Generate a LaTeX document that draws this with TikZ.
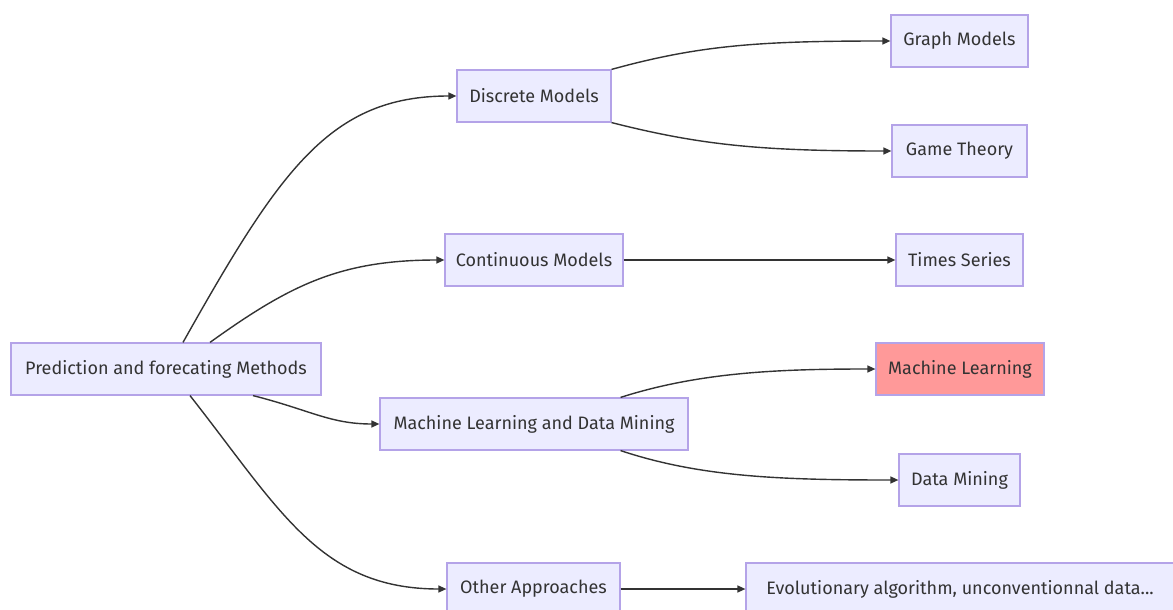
\documentclass[tikz,border=0pt]{standalone}
\usepackage{fontspec}
\setmainfont{Fira Sans}
\usepackage{tikz}
\usetikzlibrary{positioning,arrows.meta}
\usepackage{xcolor}
\definecolor{boxfill}{HTML}{ECECFF}
\definecolor{boxline}{HTML}{B4A3E8}
\definecolor{hotfill}{HTML}{FF9999}
\definecolor{ink}{HTML}{333333}

\begin{document}
\begin{tikzpicture}[x=1pt, y=-1pt, >={Triangle[length=8pt,width=7pt]},
    box/.style={draw=boxline, fill=boxfill, line width=1.2pt, minimum height=52pt, inner xsep=10pt, text=ink, font=\fontsize{18}{21}\selectfont},
    hot/.style={box, fill=hotfill},
    link/.style={->, draw=ink, line width=1.4pt}]
    \useasboundingbox (0,0) rectangle (1173,610);

    % root
    \node[box, minimum width=310pt] (root) at (166, 369) {Prediction and forecating Methods};

    % middle column
    \node[box, minimum width=154pt] (disc) at (534, 96) {Discrete Models};
    \node[box, minimum width=178pt] (cont) at (534, 260) {Continuous Models};
    \node[box, minimum width=308pt] (mldm) at (534, 424) {Machine Learning and Data Mining};
    \node[box, minimum width=173pt] (other) at (533.5, 589) {Other Approaches};

    % leaves
    \node[box, minimum width=137pt] (graph) at (959.5, 41) {Graph Models};
    \node[box, minimum width=135pt] (game) at (959.5, 151) {Game Theory};
    \node[box, minimum width=127pt] (times) at (959.5, 260) {Times Series};
    \node[hot, minimum width=168pt] (ml) at (960, 369) {Machine Learning};
    \node[box, minimum width=428pt] (evo) at (960, 589) {Evolutionary algorithm, unconventionnal data...};
    \node[box, minimum width=121pt] (dm) at (959.5, 480) {Data Mining};

    % root to middle column
    \draw[link] ([xshift=17pt]root.north) .. controls (280,170) and (330,96) .. (disc.west);
    \draw[link] ([xshift=44pt]root.north) .. controls (290,285) and (340,260) .. (cont.west);
    \draw[link] ([xshift=87pt]root.south) .. controls (310,410) and (330,424) .. (mldm.west);
    \draw[link] ([xshift=24pt]root.south) .. controls (280,510) and (320,589) .. (other.west);

    % middle column to leaves
    \draw[link] (disc.north east) .. controls (700,45) and (760,41) .. (graph.west);
    \draw[link] (disc.south east) .. controls (700,145) and (760,151) .. (game.west);
    \draw[link] (cont.east) -- (times.west);
    \draw[link] ([xshift=-68pt]mldm.north east) .. controls (700,372) and (780,369) .. (ml.west);
    \draw[link] ([xshift=-68pt]mldm.south east) .. controls (700,477) and (780,480) .. (dm.west);
    \draw[link] (other.east) -- (evo.west);
\end{tikzpicture}
\end{document}
